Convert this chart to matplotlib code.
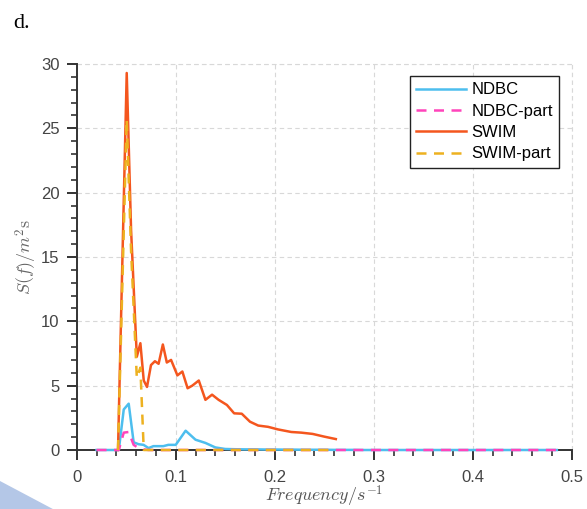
import matplotlib
matplotlib.use("Agg")
import matplotlib.pyplot as plt
import matplotlib.patches as mpatches
from matplotlib.ticker import MultipleLocator

# NDBC buoy spectrum on the standard NDBC frequency bins
ndbc_freq = [0.02, 0.0325, 0.0375, 0.0425, 0.0475, 0.0525, 0.0575, 0.0625, 0.0675,
             0.0725, 0.0775, 0.0825, 0.0875, 0.0925, 0.10, 0.11, 0.12, 0.13, 0.14,
             0.15, 0.16, 0.17, 0.18, 0.19, 0.20, 0.21, 0.22, 0.23, 0.24, 0.25, 0.26,
             0.27, 0.28, 0.29, 0.30, 0.31, 0.32, 0.33, 0.34, 0.35, 0.365, 0.385,
             0.405, 0.425, 0.445, 0.465, 0.485]
ndbc_spec = [0, 0, 0, 0, 3.15, 3.6, 0.6, 0.45, 0.4,
             0.15, 0.3, 0.3, 0.3, 0.4, 0.4, 1.5, 0.8, 0.55, 0.2,
             0.08, 0.06, 0.05, 0.05, 0.04, 0.04, 0.03, 0.03, 0.02, 0.02, 0.02, 0.01,
             0.01, 0.01, 0, 0, 0, 0, 0, 0, 0, 0, 0,
             0, 0, 0, 0, 0]
ndbc_part = [0, 0, 0, 0, 1.35, 1.4, 0.4, 0.15, 0.05,
             0, 0, 0, 0, 0, 0, 0, 0, 0, 0,
             0, 0, 0, 0, 0, 0, 0, 0, 0, 0, 0, 0,
             0, 0, 0, 0, 0, 0, 0, 0, 0, 0, 0,
             0, 0, 0, 0, 0]

# SWIM spectrum
swim_freq = [0.0417, 0.0505, 0.0549, 0.0607, 0.0643, 0.0677, 0.071, 0.075, 0.079,
             0.0827, 0.087, 0.091, 0.0953, 0.1017, 0.1067, 0.112, 0.1167, 0.1233,
             0.13, 0.1367, 0.1433, 0.1517, 0.159, 0.1667, 0.175, 0.1833, 0.1933,
             0.2033, 0.2167, 0.2267, 0.2383, 0.25, 0.2617]
swim_spec = [0, 29.3, 17.1, 7.25, 8.3, 5.4, 4.9, 6.6, 6.9,
             6.7, 8.2, 6.8, 7.0, 5.8, 6.1, 4.8, 5.0, 5.4,
             3.9, 4.3, 3.9, 3.5, 2.85, 2.82, 2.2, 1.9, 1.8,
             1.6, 1.4, 1.35, 1.25, 1.04, 0.85]
swim_part = [0, 25.7, 15.5, 5.6, 6.4, 0, 0, 0, 0,
             0, 0, 0, 0, 0, 0, 0, 0, 0,
             0, 0, 0, 0, 0, 0, 0, 0, 0,
             0, 0, 0, 0, 0, 0]

plt.rcParams['mathtext.fontset'] = 'cm'
plt.rcParams['font.family'] = ['Liberation Sans', 'DejaVu Sans']

fig = plt.figure(figsize=(5.87, 5.09), dpi=100)
ax = fig.add_axes([0.1307, 0.1159, 0.8433, 0.7584])

lw = 1.8
dash = (0, (4, 3))
ax.plot(ndbc_freq, ndbc_spec, color='#4DBEEE', lw=lw, label='NDBC', zorder=3, clip_on=False)
ax.plot(ndbc_freq, ndbc_part, color='#FF44BB', lw=lw, ls=dash, label='NDBC-part', zorder=4, clip_on=False)
ax.plot(swim_freq, swim_spec, color='#F4561E', lw=lw, label='SWIM', zorder=3, clip_on=False)
ax.plot(swim_freq, swim_part, color='#EDB120', lw=lw, ls=dash, label='SWIM-part', zorder=4, clip_on=False)

ax.set_xlim(0, 0.5)
ax.set_ylim(0, 30)
ax.xaxis.set_major_locator(MultipleLocator(0.1))
ax.xaxis.set_minor_locator(MultipleLocator(0.02))
ax.yaxis.set_major_locator(MultipleLocator(5))
ax.yaxis.set_minor_locator(MultipleLocator(1))
ax.xaxis.set_major_formatter(plt.FuncFormatter(lambda v, p: '0' if abs(v) < 1e-9 else f'{v:g}'))

for side in ('top', 'right'):
    ax.spines[side].set_visible(False)
for side in ('left', 'bottom'):
    ax.spines[side].set_color('#333333')
    ax.spines[side].set_linewidth(1.4)
    ax.spines[side].set_zorder(2)

ax.tick_params(which='major', direction='out', length=7.5, width=1.4, color='#333333',
               labelsize=12, labelcolor='#444444', pad=5)
ax.tick_params(axis='x', which='major', pad=7)
ax.tick_params(which='minor', direction='out', length=4.5, width=1.2, color='#333333')

ax.grid(True, which='major', ls=dash, color='#D8D8D8', lw=0.8)
# grid lines along the top and right edges
ax.axhline(30, ls=dash, color='#D8D8D8', lw=0.8, clip_on=False)
ax.axvline(0.5, ls=dash, color='#D8D8D8', lw=0.8, clip_on=False)
ax.set_axisbelow(True)

ax.set_xlabel(r'$Frequency/s^{-1}$', fontsize=13, color='#555555', labelpad=-1)
ax.set_ylabel(r'$S(f)/m^2\mathrm{s}$', fontsize=13, color='#666666', labelpad=1)

leg = ax.legend(loc='upper right', bbox_to_anchor=(0.982, 0.978), fontsize=12,
                frameon=True, fancybox=False, handlelength=3.0, borderpad=0.4,
                labelspacing=0.38, handletextpad=0.3, borderaxespad=0.2)
leg.get_frame().set_edgecolor('#222222')
leg.get_frame().set_linewidth(1.0)
leg.get_frame().set_alpha(1)

fig.text(0.022, 0.945, 'd.', fontsize=16, family='Liberation Serif', ha='left', va='baseline')

# decorative corner shape
corner = mpatches.Polygon([(0, 0), (0, 0.055), (0.09, 0)], closed=True,
                          transform=fig.transFigure, facecolor='#B4C7E7',
                          edgecolor='none', zorder=0)
fig.patches.append(corner)

fig.savefig('out.png', dpi=100)
